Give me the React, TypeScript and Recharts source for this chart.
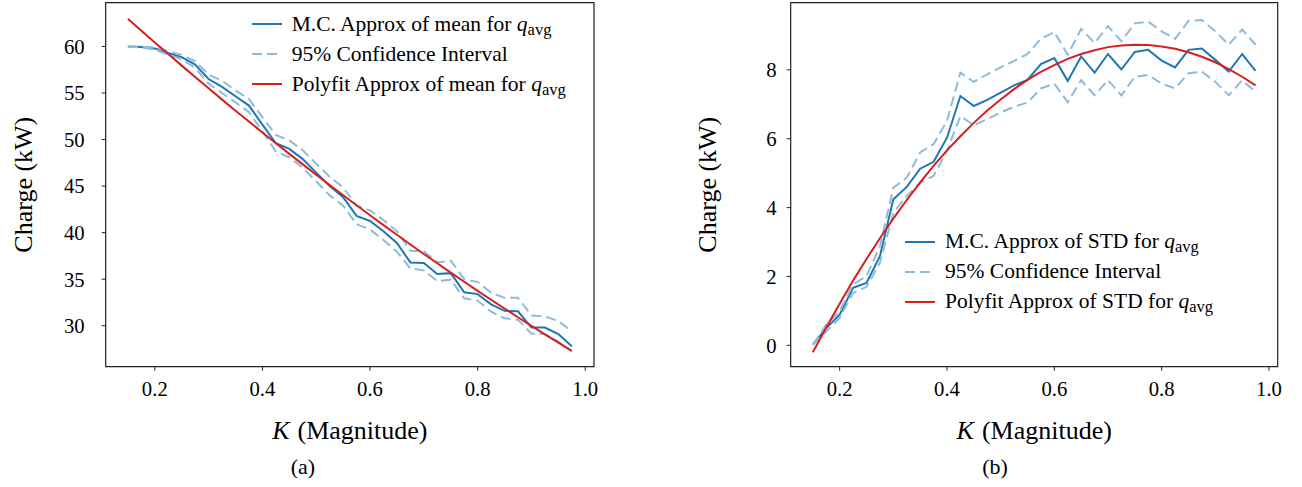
import React from 'react'
import { LineChart, Line, XAxis, YAxis, ReferenceArea, Legend } from 'recharts'

// K (magnitude) sample points
const kValues = [
  0.15, 0.175, 0.2, 0.225, 0.25, 0.275, 0.3, 0.325, 0.35, 0.375, 0.4, 0.425,
  0.45, 0.475, 0.5, 0.525, 0.55, 0.575, 0.6, 0.625, 0.65, 0.675, 0.7, 0.725,
  0.75, 0.775, 0.8, 0.825, 0.85, 0.875, 0.9, 0.925, 0.95, 0.975,
]

// (a) mean of q_avg
const meanMc = [
  60.0, 59.93, 59.79, 59.3, 58.86, 58.05, 56.5, 55.65, 54.65, 53.65, 51.6, 49.6,
  49.0, 47.9, 46.45, 45.0, 43.8, 41.8, 41.25, 40.15, 38.9, 36.8, 36.75, 35.55,
  35.65, 33.6, 33.4, 32.3, 31.6, 31.55, 29.8, 29.8, 29.1, 27.8,
]
const meanUpper = [
  60.0, 59.98, 59.9, 59.5, 59.1, 58.4, 57.0, 56.3, 55.3, 54.35, 52.4, 50.5,
  49.9, 48.85, 47.4, 46.0, 44.85, 42.9, 42.4, 41.35, 40.15, 38.05, 38.0, 36.8,
  37.0, 35.0, 34.7, 33.55, 33.0, 33.0, 31.1, 31.0, 30.5, 29.4,
]
const meanLower = [
  60.0, 59.88, 59.68, 59.1, 58.62, 57.7, 56.0, 55.0, 54.0, 52.95, 50.9, 48.7,
  48.1, 46.95, 45.5, 44.0, 42.9, 40.9, 40.35, 39.2, 37.95, 36.15, 35.95, 34.8,
  34.95, 32.95, 32.7, 31.5, 30.8, 30.65, 29.15, 29.1, 28.3, 27.25,
]
const meanFit = [
  62.97, 61.69, 60.43, 59.18, 57.94, 56.71, 55.5, 54.29, 53.1, 51.93, 50.76, 49.6,
  48.46, 47.33, 46.22, 45.11, 44.02, 42.94, 41.87, 40.81, 39.77, 38.73, 37.71, 36.71,
  35.71, 34.73, 33.75, 32.79, 31.85, 30.91, 29.99, 29.08, 28.18, 27.29,
]

// (b) STD of q_avg
const stdMc = [
  0.02, 0.5, 0.89, 1.67, 1.81, 2.59, 4.24, 4.6, 5.13, 5.33, 6.03, 7.24,
  6.95, 7.13, 7.34, 7.55, 7.71, 8.17, 8.34, 7.68, 8.39, 7.92, 8.46, 8.01,
  8.52, 8.58, 8.27, 8.07, 8.58, 8.62, 8.29, 7.95, 8.46, 7.97,
]
const stdUpper = [
  0.02, 0.6, 0.99, 1.77, 2.01, 2.88, 4.58, 4.87, 5.6, 5.84, 6.52, 7.92,
  7.65, 7.87, 8.07, 8.26, 8.46, 8.9, 9.1, 8.44, 9.19, 8.78, 9.27, 8.83,
  9.35, 9.4, 9.12, 8.9, 9.42, 9.45, 9.12, 8.73, 9.17, 8.73,
]
const stdLower = [
  0.02, 0.4, 0.8, 1.52, 1.7, 2.4, 3.85, 4.34, 4.72, 4.92, 5.65, 6.66,
  6.39, 6.57, 6.76, 6.93, 7.05, 7.46, 7.6, 7.06, 7.7, 7.26, 7.7, 7.26,
  7.8, 7.85, 7.6, 7.46, 7.9, 7.95, 7.65, 7.26, 7.7, 7.36,
]
const stdFit = [
  -0.2, 0.52, 1.21, 1.88, 2.51, 3.11, 3.68, 4.22, 4.73, 5.21, 5.66, 6.07,
  6.46, 6.82, 7.14, 7.44, 7.71, 7.94, 8.14, 8.32, 8.46, 8.57, 8.66, 8.71,
  8.73, 8.72, 8.68, 8.61, 8.51, 8.38, 8.22, 8.02, 7.8, 7.55,
]

const xTicks = [0.2, 0.4, 0.6, 0.8, 1.0]
const meanTicks = [30, 35, 40, 45, 50, 55, 60]
const stdTicks = [0, 2, 4, 6, 8]

const xDomain: [number, number] = [0.10875, 1.01625]
const meanDomain: [number, number] = [25.6, 64.7]
const stdDomain: [number, number] = [-0.62, 9.95]

const BLUE = '#1f77b4'
const LIGHT = '#8fbbd9'
const RED = '#d91e1e'
const INK = '#222'
const FONT = 'Liberation Serif, Tinos, serif'

const meanRows = kValues.map((k, i) => ({
  k,
  mc: meanMc[i],
  upper: meanUpper[i],
  lower: meanLower[i],
  fit: meanFit[i],
}))

const stdRows = kValues.map((k, i) => ({
  k,
  mc: stdMc[i],
  upper: stdUpper[i],
  lower: stdLower[i],
  fit: stdFit[i],
}))

const Qavg = () => (
  <>
    <i>q</i>
    <span style={{ fontSize: 16.5, position: 'relative', top: 4 }}>avg</span>
  </>
)

function LegendRows({ stat }: { stat: string }) {
  const items = [
    { key: 'mc', color: BLUE, dash: undefined, label: <>M.C. Approx of {stat} for <Qavg /></> },
    { key: 'ci', color: LIGHT, dash: '10 5', label: <>95% Confidence Interval</> },
    { key: 'fit', color: RED, dash: undefined, label: <>Polyfit Approx of {stat} for <Qavg /></> },
  ]
  return (
    <div style={{ fontFamily: FONT, fontSize: 21.5, color: '#000' }}>
      {items.map((it) => (
        <div key={it.key} style={{ height: 30, display: 'flex', alignItems: 'center' }}>
          <svg width={40} height={30} style={{ flex: 'none' }}>
            <line x1={0} y1={15} x2={30} y2={15} stroke={it.color} strokeWidth={2} strokeDasharray={it.dash} />
          </svg>
          <span style={{ whiteSpace: 'nowrap' }}>{it.label}</span>
        </div>
      ))}
    </div>
  )
}

const xTitle = (props: any) => {
  const { viewBox } = props
  const cx = viewBox.x + viewBox.width / 2
  return (
    <text x={cx} y={viewBox.y + 72} textAnchor="middle" style={{ fontFamily: FONT }} fontSize={26} fill="#000">
      <tspan fontStyle="italic">K</tspan>
      <tspan dx={8}>(Magnitude)</tspan>
    </text>
  )
}

const yTitle = (offset: number) => (props: any) => {
  const { viewBox } = props
  const cx = viewBox.x + offset
  const cy = viewBox.y + viewBox.height / 2
  return (
    <text
      x={cx}
      y={cy}
      transform={`rotate(-90 ${cx} ${cy})`}
      textAnchor="middle"
      dominantBaseline="central"
      style={{ fontFamily: FONT }}
      fontSize={26}
      fill="#000"
    >
      Charge (kW)
    </text>
  )
}

interface PanelProps {
  rows: any[]
  yDomain: [number, number]
  yTicks: number[]
  width: number
  axisWidth: number
  rightMargin: number
  tickGap: number
  titleOffset: number
  legendLeft: number
  legendTop: number
  stat: string
}

function Panel(p: PanelProps) {
  const tickStyle = { fill: '#000', fontSize: 20.7, fontFamily: FONT }
  return (
    <LineChart
      width={p.width}
      height={487}
      data={p.rows}
      margin={{ top: 2.7, right: p.rightMargin, bottom: 0.3, left: 0 }}
    >
      <XAxis
        dataKey="k"
        type="number"
        domain={xDomain}
        ticks={xTicks}
        tickFormatter={(v: number) => v.toFixed(1)}
        allowDataOverflow
        axisLine={false}
        tickLine={{ stroke: INK }}
        tickSize={4}
        tickMargin={11}
        height={120}
        tick={tickStyle}
        label={xTitle}
      />
      <YAxis
        type="number"
        domain={p.yDomain}
        ticks={p.yTicks}
        allowDataOverflow
        axisLine={false}
        tickLine={{ stroke: INK }}
        tickSize={4}
        tickMargin={p.tickGap}
        width={p.axisWidth}
        tick={tickStyle}
        label={yTitle(p.titleOffset)}
      />
      <ReferenceArea
        x1={xDomain[0]}
        x2={xDomain[1]}
        y1={p.yDomain[0]}
        y2={p.yDomain[1]}
        fill="none"
        stroke={INK}
        strokeWidth={1.2}
        ifOverflow="visible"
      />
      <Legend
        layout="horizontal"
        verticalAlign="middle"
        align="center"
        wrapperStyle={{ left: p.legendLeft, top: p.legendTop, width: 'auto' }}
        content={() => <LegendRows stat={p.stat} />}
      />
      <Line type="linear" dataKey="mc" stroke={BLUE} strokeWidth={2} dot={false} isAnimationActive={false} />
      <Line type="linear" dataKey="upper" stroke={LIGHT} strokeWidth={2} strokeDasharray="10 5" dot={false} isAnimationActive={false} />
      <Line type="linear" dataKey="lower" stroke={LIGHT} strokeWidth={2} strokeDasharray="10 5" dot={false} isAnimationActive={false} />
      <Line type="linear" dataKey="fit" stroke={RED} strokeWidth={2} dot={false} isAnimationActive={false} />
    </LineChart>
  )
}

const captionStyle: React.CSSProperties = {
  position: 'absolute',
  top: 455,
  width: 100,
  textAlign: 'center',
  fontSize: 22,
  lineHeight: '24px',
  color: '#000',
}

export default function App() {
  return (
    <div
      style={{
        position: 'absolute',
        left: 0,
        top: 0,
        width: 1302,
        height: 487,
        background: '#fff',
        fontFamily: FONT,
      }}
    >
      <div style={{ position: 'absolute', left: 0, top: 0 }}>
        <Panel
          rows={meanRows}
          yDomain={meanDomain}
          yTicks={meanTicks}
          width={600}
          axisWidth={105.7}
          rightMargin={6}
          tickGap={17}
          titleOffset={24}
          legendLeft={251.7}
          legendTop={9}
          stat="mean"
        />
      </div>
      <div style={{ position: 'absolute', left: 680, top: 0 }}>
        <Panel
          rows={stdRows}
          yDomain={stdDomain}
          yTicks={stdTicks}
          width={622}
          axisWidth={110.7}
          rightMargin={24.3}
          tickGap={10}
          titleOffset={28}
          legendLeft={225}
          legendTop={226.7}
          stat="STD"
        />
      </div>
      <div style={{ ...captionStyle, left: 253 }}>(a)</div>
      <div style={{ ...captionStyle, left: 945 }}>(b)</div>
    </div>
  )
}
